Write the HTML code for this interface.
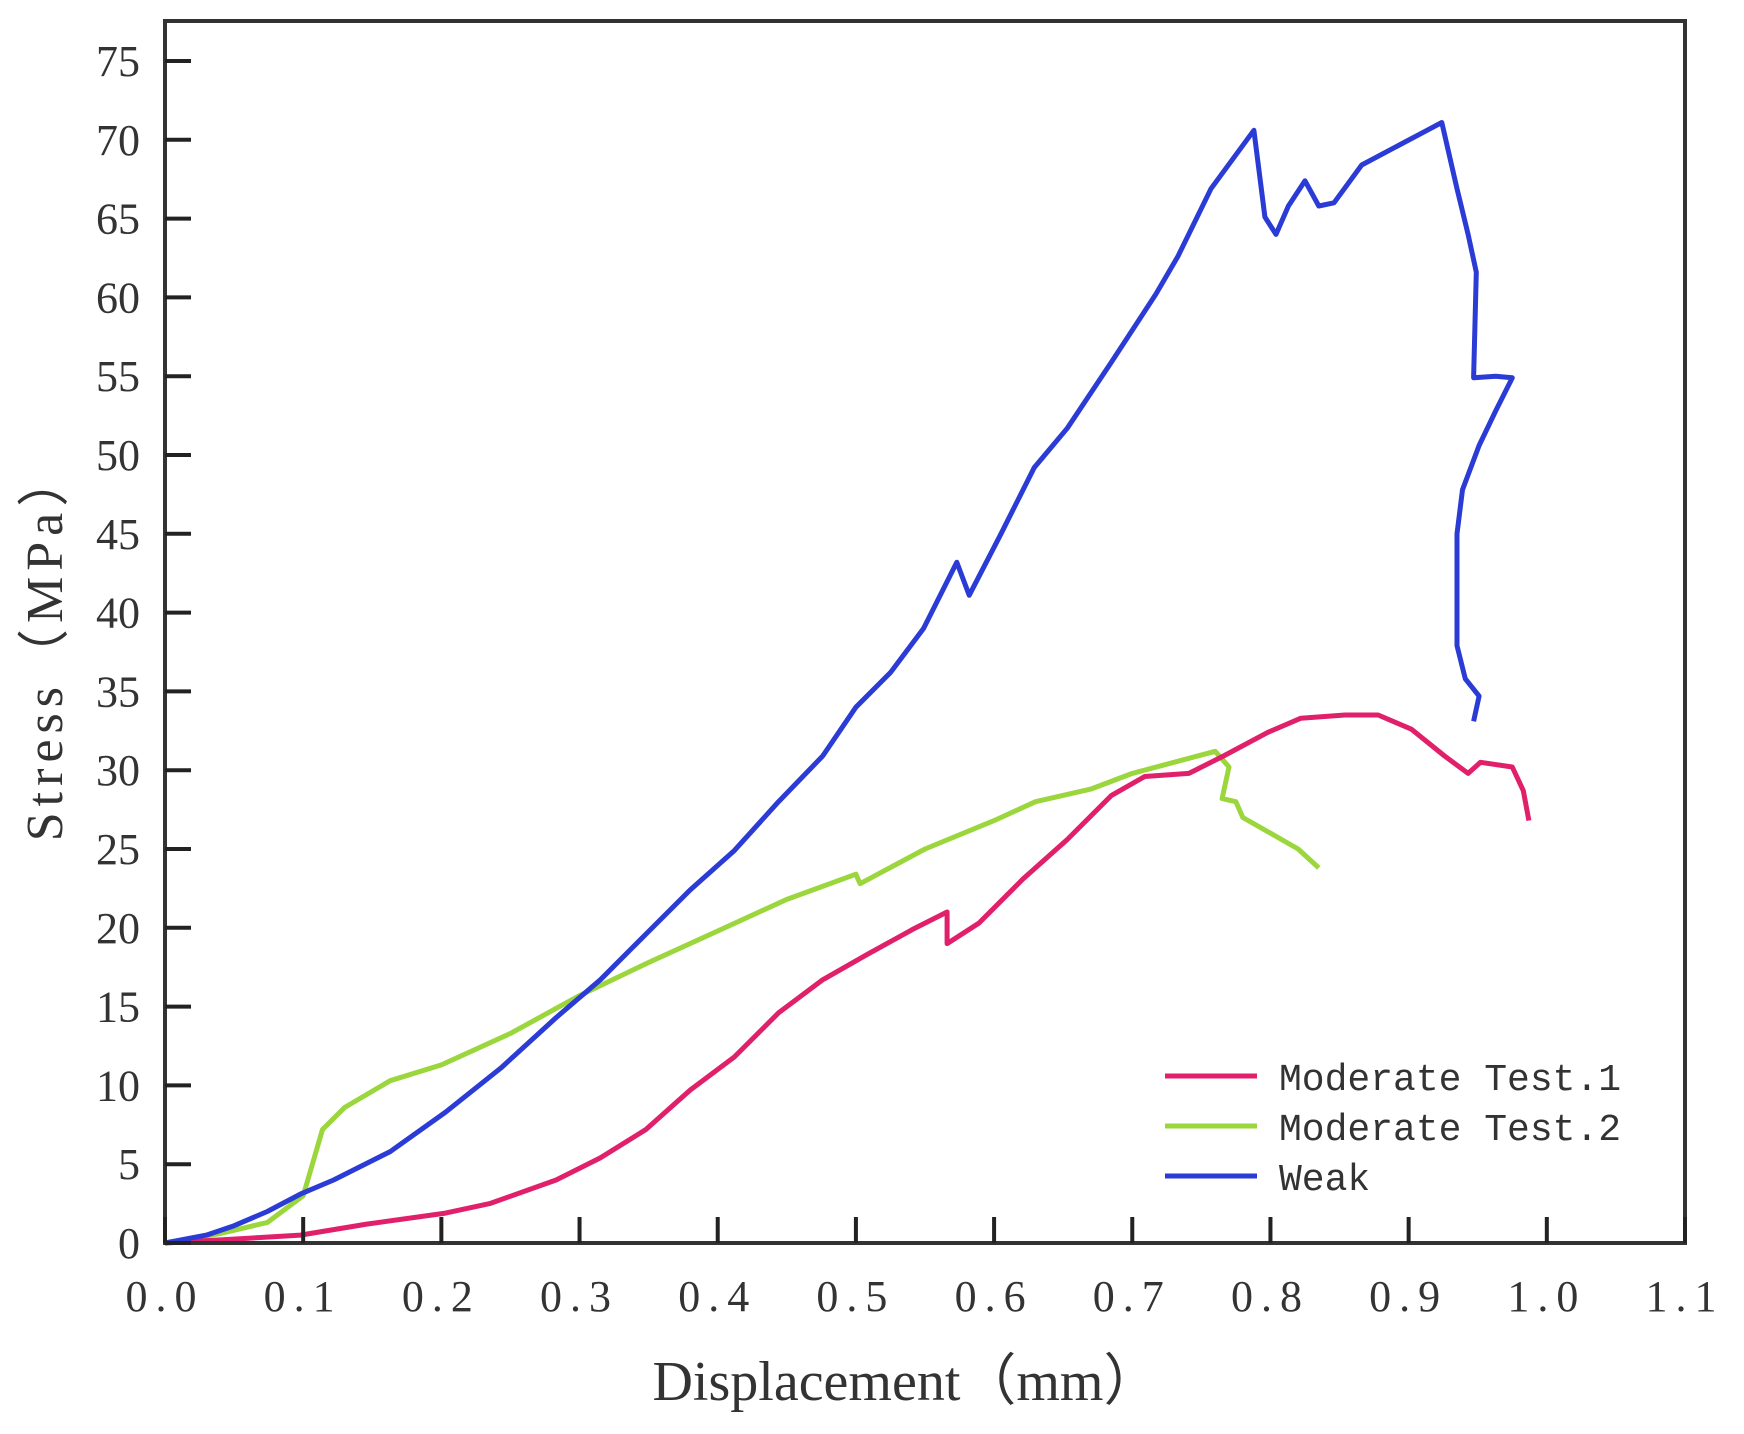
<!DOCTYPE html>
<html><head><meta charset="utf-8"><style>
html,body{margin:0;padding:0;background:#fff;}
svg{display:block;}
text{fill:#333;}
</style></head><body>
<svg id="chart" width="1744" height="1434" viewBox="0 0 1744 1434" xmlns="http://www.w3.org/2000/svg">
<rect x="0" y="0" width="1744" height="1434" fill="#fff"/>
<g id="marks"></g>
<rect x="165" y="21" width="1520" height="1222" fill="none" stroke="#333" stroke-width="4"/>
<g id="ticks"></g>
<text x="906" y="1400" text-anchor="middle" font-family="Liberation Serif, serif" font-size="56">Displacement（mm）</text>
<text transform="translate(62,645) rotate(-90)" text-anchor="middle" font-family="Liberation Serif, serif" font-size="52" letter-spacing="6">Stress（MPa）</text>
<g id="legend"></g>
</svg>
<script>
const xTicks = [0,0.1,0.2,0.3,0.4,0.5,0.6,0.7,0.8,0.9,1.0,1.1];
const xTickLabels = ["0.0","0.1","0.2","0.3","0.4","0.5","0.6","0.7","0.8","0.9","1.0","1.1"];
const yTicks = [0,5,10,15,20,25,30,35,40,45,50,55,60,65,70,75];
const seriesNames = ["Moderate Test.1","Moderate Test.2","Weak"];
const seriesColors = ["#e0206a","#9ad63c","#2b3bd6"];
const weakX = [0,0.03,0.05,0.074,0.098,0.122,0.163,0.203,0.243,0.283,0.315,0.348,0.38,0.412,0.444,0.476,0.5,0.525,0.549,0.573,0.582,0.605,0.629,0.653,0.685,0.717,0.733,0.757,0.788,0.796,0.804,0.813,0.825,0.835,0.846,0.866,0.894,0.924,0.935,0.943,0.949,0.947,0.963,0.975,0.963,0.951,0.939,0.935,0.935,0.941,0.951,0.947];
const weakY = [0,0.5,1.1,2.0,3.1,4.0,5.8,8.3,11.1,14.3,16.7,19.6,22.4,24.9,28.0,30.9,34.0,36.2,39.0,43.2,41.1,45.0,49.2,51.7,55.9,60.2,62.6,66.9,70.6,65.1,64.0,65.8,67.4,65.8,66.0,68.4,69.7,71.1,66.9,64.0,61.6,54.9,55.0,54.9,52.8,50.6,47.8,45.0,37.9,35.8,34.7,33.1];
const mod1X = [0,0.042,0.098,0.146,0.203,0.235,0.283,0.315,0.348,0.38,0.412,0.444,0.476,0.508,0.541,0.566,0.566,0.589,0.621,0.653,0.685,0.709,0.741,0.766,0.798,0.822,0.854,0.878,0.902,0.926,0.943,0.952,0.975,0.983,0.987];
const mod1Y = [0,0.2,0.5,1.2,1.9,2.5,4.0,5.4,7.2,9.7,11.8,14.6,16.7,18.3,19.9,21.0,19.0,20.3,23.1,25.6,28.4,29.6,29.8,30.9,32.4,33.3,33.5,33.5,32.6,30.9,29.8,30.5,30.2,28.7,26.8];
const mod2X = [0,0.04,0.074,0.1,0.114,0.13,0.163,0.2,0.25,0.3,0.35,0.4,0.45,0.5,0.503,0.55,0.6,0.63,0.67,0.7,0.76,0.77,0.765,0.775,0.78,0.8,0.82,0.835];
const mod2Y = [0,0.6,1.3,3.0,7.2,8.6,10.3,11.3,13.3,15.7,17.8,19.8,21.8,23.4,22.8,25.0,26.8,28.0,28.8,29.8,31.2,30.2,28.2,28.0,27.0,26.0,25.0,23.8];

const X0=165, X1=1685, Y0=1243, YTOP=61;
function sx(v){return X0+(X1-X0)*v/1.1;}
function sy(v){return Y0-(Y0-YTOP)*v/75;}
const NS="http://www.w3.org/2000/svg";
const marks=document.getElementById('marks');
const series=[[mod1X,mod1Y],[mod2X,mod2Y],[weakX,weakY]];
const order=[1,0,2];
const lineNames=['moderate-test-1-line','moderate-test-2-line','weak-line'];
order.forEach(i=>{
  const [xs,ys]=series[i];
  const p=document.createElementNS(NS,'polyline');
  p.setAttribute('points',xs.map((x,k)=>sx(x).toFixed(1)+','+sy(ys[k]).toFixed(1)).join(' '));
  p.setAttribute('fill','none');
  p.setAttribute('stroke',seriesColors[i]);
  p.setAttribute('stroke-width','5');
  p.setAttribute('stroke-linejoin','round');
  
  
  marks.appendChild(p);
});
const ticks=document.getElementById('ticks');
xTicks.forEach((v,k)=>{
  const l=document.createElementNS(NS,'line');
  l.setAttribute('x1',sx(v));l.setAttribute('x2',sx(v));
  l.setAttribute('y1',Y0);l.setAttribute('y2',Y0-26);
  l.setAttribute('stroke','#222');l.setAttribute('stroke-width','4');
  
  
  ticks.appendChild(l);
  const t=document.createElementNS(NS,'text');
  t.setAttribute('x',sx(v));t.setAttribute('y',Y0+68);
  t.setAttribute('text-anchor','middle');
  t.setAttribute('font-family','Liberation Serif, serif');
  t.setAttribute('font-size','44');
  t.setAttribute('letter-spacing','8');
  t.textContent=xTickLabels[k];
  
  
  ticks.appendChild(t);
});
yTicks.forEach(v=>{
  const l=document.createElementNS(NS,'line');
  l.setAttribute('x1',X0);l.setAttribute('x2',X0+26);
  l.setAttribute('y1',sy(v));l.setAttribute('y2',sy(v));
  l.setAttribute('stroke','#222');l.setAttribute('stroke-width','4');
  
  
  ticks.appendChild(l);
  const t=document.createElementNS(NS,'text');
  t.setAttribute('x',140);t.setAttribute('y',sy(v)+15);
  t.setAttribute('text-anchor','end');
  t.setAttribute('font-family','Liberation Serif, serif');
  t.setAttribute('font-size','44');
  t.textContent=String(v);
  
  
  ticks.appendChild(t);
});
const legend=document.getElementById('legend');


seriesNames.forEach((n,i)=>{
  const y=1076+i*50;
  const l=document.createElementNS(NS,'line');
  l.setAttribute('x1',1165);l.setAttribute('x2',1257);
  l.setAttribute('y1',y);l.setAttribute('y2',y);
  l.setAttribute('stroke',seriesColors[i]);l.setAttribute('stroke-width','5');
  
  
  legend.appendChild(l);
  const t=document.createElementNS(NS,'text');
  t.setAttribute('x',1279);t.setAttribute('y',y+14);
  t.setAttribute('font-family','Liberation Mono, monospace');
  t.setAttribute('font-size','38');
  t.textContent=n;
  
  
  legend.appendChild(t);
});
</script>
</body></html>
